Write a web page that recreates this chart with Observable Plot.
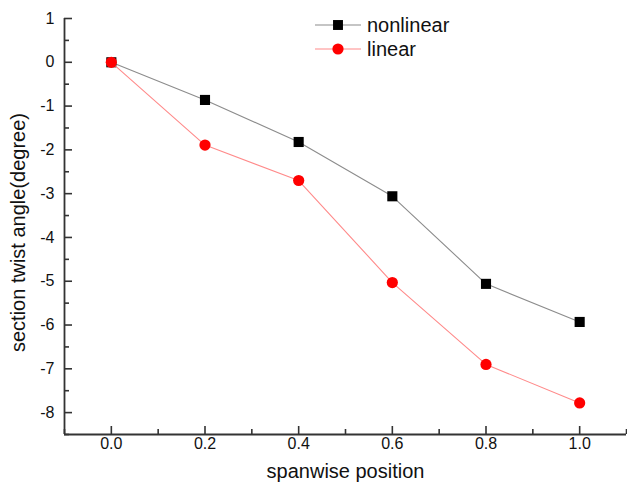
<!DOCTYPE html>
<html>
<head>
<meta charset="utf-8">
<script src="https://cdn.jsdelivr.net/npm/d3@7"></script>
<script src="https://cdn.jsdelivr.net/npm/@observablehq/plot@0.6"></script>
<style>
  html, body { margin: 0; padding: 0; background: #fff; }
  #chart svg { display: block; font-family: "Liberation Sans", Arial, sans-serif; }
</style>
</head>
<body>
<div id="chart"></div>
<script>
const positions = [0, 0.2, 0.4, 0.6, 0.8, 1.0];
const nonlinear = [0, -0.86, -1.82, -3.06, -5.06, -5.93];
const linear = [0, -1.89, -2.70, -5.03, -6.90, -7.78];
const seriesNames = ["nonlinear", "linear"];
const xTicks = [0, 0.2, 0.4, 0.6, 0.8, 1.0];
const xMinor = [-0.1, 0.1, 0.3, 0.5, 0.7, 0.9, 1.1];
const yTicks = [1, 0, -1, -2, -3, -4, -5, -6, -7, -8];
const yMinor = [0.5, -0.5, -1.5, -2.5, -3.5, -4.5, -5.5, -6.5, -7.5, -8.5];

const W = 627, H = 485;
const mL = 64, mR = 1, mT = 18, mB = 51;
const pw = W - mL - mR, ph = H - mT - mB;

const nl = positions.map((x, i) => ({x, y: nonlinear[i]}));
const li = positions.map((x, i) => ({x, y: linear[i]}));
const axisColor = "#333";

const plot = Plot.plot({
  width: W, height: H,
  marginLeft: mL, marginRight: mR, marginTop: mT, marginBottom: mB,
  style: {fontFamily: "'Liberation Sans', Arial, sans-serif", fontSize: "16px", background: "#fff", overflow: "visible"},
  x: {domain: [-0.1, 1.1]},
  y: {domain: [-8.5, 1]},
  marks: [
    Plot.axisX({ticks: xTicks, tickSize: 0, tickPadding: 3, tickFormat: d => d.toFixed(1), fill: "#111", label: null}),
    Plot.axisY({ticks: yTicks, tickSize: 0, tickPadding: 10, tickFormat: d => String(d), fill: "#111", label: null}),
    // inward ticks
    Plot.tickX(xTicks, {x: d => d, insetTop: ph - 8, stroke: axisColor, strokeWidth: 1.6}),
    Plot.tickX(xMinor, {x: d => d, insetTop: ph - 5, stroke: axisColor, strokeWidth: 1.6}),
    Plot.tickY(yTicks, {y: d => d, insetRight: pw - 8, stroke: axisColor, strokeWidth: 1.6}),
    Plot.tickY(yMinor, {y: d => d, insetRight: pw - 5, stroke: axisColor, strokeWidth: 1.6}),
    Plot.ruleX([-0.1], {stroke: axisColor, strokeWidth: 1.8}),
    Plot.ruleY([-8.5], {stroke: axisColor, strokeWidth: 1.8}),
    // series
    Plot.line(nl, {x: "x", y: "y", stroke: "#8c8c8c", strokeWidth: 1.1}),
    Plot.dot(nl, {x: "x", y: "y", symbol: "square", r: 5.7, fill: "#000", stroke: "none"}),
    Plot.line(li, {x: "x", y: "y", stroke: "#ff8a8a", strokeWidth: 1.1}),
    Plot.dot(li, {x: "x", y: "y", symbol: "circle", r: 5.6, fill: "#ff0000", stroke: "none"}),
    // axis titles
    Plot.text(["spanwise position"], {frameAnchor: "bottom", textAnchor: "middle", dy: 43, fontSize: 20, fill: "#111"}),
    Plot.text(["section twist angle(degree)"], {frameAnchor: "left", textAnchor: "middle", dx: -46, dy: 6, rotate: -90, fontSize: 20, fill: "#111"})
  ]
});

document.getElementById("chart").appendChild(plot);

// legend
const svg = d3.select(plot);
const legendItems = [
  {name: seriesNames[0], line: "#8c8c8c", fill: "#000", sym: d3.symbolSquare, cy: 25},
  {name: seriesNames[1], line: "#ff8a8a", fill: "#ff0000", sym: d3.symbolCircle, cy: 49}
];
const lg = svg.append("g").attr("text-anchor", "start");
legendItems.forEach(it => {
  lg.append("line").attr("x1", 315).attr("x2", 361).attr("y1", it.cy).attr("y2", it.cy)
    .attr("stroke", it.line).attr("stroke-width", 1.1);
  lg.append("path").attr("d", d3.symbol(it.sym, Math.PI * 5.6 * 5.6)())
    .attr("transform", `translate(338,${it.cy})`).attr("fill", it.fill);
  lg.append("text").attr("x", 367).attr("y", it.cy).attr("dy", "0.36em")
    .attr("text-anchor", "start")
    .attr("font-size", 20).attr("fill", "#111")
    .attr("font-family", "'Liberation Sans', Arial, sans-serif").text(it.name);
});
</script>
</body>
</html>
